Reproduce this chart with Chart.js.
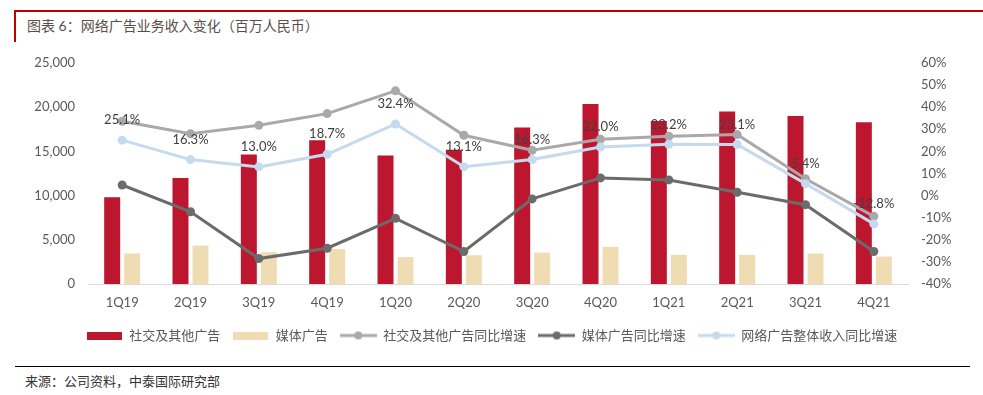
<!DOCTYPE html>
<html>
<head>
<meta charset="utf-8">
<script src="https://cdn.jsdelivr.net/npm/chart.js@4"></script>
<style>
  body { margin: 0; background: #fff; width: 983px; height: 395px; overflow: hidden; position: relative;
         font-family: Lato, "Noto Sans CJK SC", sans-serif; }
  #topline { position: absolute; left: 14px; top: 10px; width: 969px; height: 2px; background: #c00000; }
  #sideline { position: absolute; left: 14px; top: 10px; width: 2px; height: 32px; background: #c00000; }
  #title { position: absolute; left: 27px; top: 17px; font-size: 14px; line-height: 18px; color: #5a4e4a; }
  #box { position: absolute; left: 0; top: 0; width: 983px; height: 360px; }
  #bottomline { position: absolute; left: 15px; top: 366px; width: 955px; height: 1px; background: #000; }
  #source { position: absolute; left: 25px; top: 373px; font-size: 13px; line-height: 16px; color: #333; }
</style>
</head>
<body>
<div id="topline"></div>
<div id="sideline"></div>
<div id="title">图表 6：网络广告业务收入变化（百万人民币）</div>
<div id="box"><canvas id="grafico"></canvas></div>
<div id="bottomline"></div>
<div id="source">来源：公司资料，中泰国际研究部</div>

<script>
const quarters = ['1Q19', '2Q19', '3Q19', '4Q19', '1Q20', '2Q20', '3Q20', '4Q20', '1Q21', '2Q21', '3Q21', '4Q21'];
// 百万人民币
const socialAds = [9800, 12000, 14650, 16250, 14550, 15200, 17700, 20350, 18450, 19500, 19000, 18300];
const mediaAds = [3450, 4350, 3600, 3950, 3050, 3250, 3550, 4200, 3300, 3300, 3450, 3100];
// 同比增速 %
const socialYoy = [33.6, 28.0, 31.8, 37.1, 47.4, 27.3, 20.5, 25.5, 26.8, 27.6, 7.6, -9.4];
const mediaYoy = [4.8, -7.3, -28.5, -23.8, -10.3, -25.3, -1.5, 8.0, 7.1, 1.5, -4.1, -25.3];
const totalYoy = [25.1, 16.3, 13.0, 18.7, 32.4, 13.1, 16.3, 22.0, 23.2, 23.1, 5.4, -12.8];

const fonte = 'Lato, "Noto Sans CJK SC", sans-serif';
const corTexto = '#595959';

function iconeBarra(cor) {
  const c = document.createElement('canvas');
  c.width = 35; c.height = 8;
  const g = c.getContext('2d');
  g.fillStyle = cor;
  g.fillRect(0, 0, 35, 8);
  return c;
}

function iconeLinha(cor) {
  const c = document.createElement('canvas');
  c.width = 37; c.height = 10;
  const g = c.getContext('2d');
  g.strokeStyle = cor;
  g.lineWidth = 3;
  g.beginPath(); g.moveTo(0, 5); g.lineTo(37, 5); g.stroke();
  g.fillStyle = cor;
  g.beginPath(); g.arc(18.5, 5, 4, 0, Math.PI * 2); g.fill();
  return c;
}

const rotulosPct = {
  id: 'rotulosPct',
  afterDatasetsDraw(chart) {
    const meta = chart.getDatasetMeta(4);
    const ctx = chart.ctx;
    ctx.save();
    ctx.font = '13px ' + fonte;
    ctx.fillStyle = '#404040';
    ctx.textAlign = 'center';
    ctx.textBaseline = 'middle';
    meta.data.forEach((pt, i) => {
      ctx.fillText(totalYoy[i].toFixed(1) + '%', pt.x, pt.y - 20);
    });
    ctx.restore();
  }
};

const ctx = document.getElementById('grafico');

new Chart(ctx, {
  type: 'bar',
  data: {
    labels: quarters,
    datasets: [
      {
        label: '社交及其他广告',
        data: socialAds,
        backgroundColor: '#bd162f',
        yAxisID: 'y',
        order: 5,
        categoryPercentage: 0.585,
        barPercentage: 0.8
      },
      {
        label: '媒体广告',
        data: mediaAds,
        backgroundColor: '#f0dcb3',
        yAxisID: 'y',
        order: 5,
        categoryPercentage: 0.585,
        barPercentage: 0.8
      },
      {
        type: 'line',
        label: '社交及其他广告同比增速',
        data: socialYoy,
        borderColor: '#a9a9a9',
        backgroundColor: '#a9a9a9',
        borderWidth: 3,
        pointRadius: 4.5,
        pointBorderWidth: 0,
        yAxisID: 'y1',
        order: 3
      },
      {
        type: 'line',
        label: '媒体广告同比增速',
        data: mediaYoy,
        borderColor: '#6b6b6b',
        backgroundColor: '#6b6b6b',
        borderWidth: 3,
        pointRadius: 4.5,
        pointBorderWidth: 0,
        yAxisID: 'y1',
        order: 2
      },
      {
        type: 'line',
        label: '网络广告整体收入同比增速',
        data: totalYoy,
        borderColor: '#c6daef',
        backgroundColor: '#c6daef',
        borderWidth: 3,
        pointRadius: 4.5,
        pointBorderWidth: 0,
        yAxisID: 'y1',
        order: 1
      }
    ]
  },
  options: {
    responsive: true,
    maintainAspectRatio: false,
    animation: false,
    layout: { padding: { top: 63, left: 0, right: 0, bottom: 8 } },
    plugins: {
      tooltip: { enabled: false },
      legend: {
        display: true,
        position: 'bottom',
        labels: {
          usePointStyle: true,
          pointStyleWidth: 37,
          boxHeight: 13,
          padding: 12,
          color: corTexto,
          font: { size: 13, family: fonte },
          generateLabels(chart) {
            const icones = [
              iconeBarra('#bd162f'), iconeBarra('#f0dcb3'),
              iconeLinha('#a9a9a9'), iconeLinha('#6b6b6b'), iconeLinha('#c6daef')
            ];
            return chart.data.datasets.map((ds, i) => ({
              text: ds.label,
              pointStyle: icones[i],
              fillStyle: ds.backgroundColor,
              strokeStyle: ds.backgroundColor,
              lineWidth: 0,
              fontColor: corTexto,
              hidden: false,
              datasetIndex: i
            }));
          }
        }
      }
    },
    scales: {
      x: {
        grid: { display: false, drawTicks: false },
        border: { display: true, color: '#d9d9d9', width: 1 },
        ticks: { color: corTexto, font: { size: 13, family: fonte }, padding: 11 },
        afterFit(scale) { scale.height = 33; }
      },
      y: {
        type: 'linear',
        position: 'left',
        min: 0,
        max: 25000,
        grid: { display: false, drawTicks: false },
        border: { display: false },
        ticks: {
          stepSize: 5000,
          color: corTexto,
          font: { size: 13, family: fonte },
          padding: 13,
          callback: v => v.toLocaleString('en-US')
        },
        afterFit(scale) { scale.width = 88; }
      },
      y1: {
        type: 'linear',
        position: 'right',
        min: -40,
        max: 60,
        grid: { display: false, drawTicks: false },
        border: { display: false },
        ticks: {
          stepSize: 10,
          color: corTexto,
          font: { size: 13, family: fonte },
          padding: 13,
          callback: v => v + '%'
        },
        afterFit(scale) { scale.width = 75; }
      }
    }
  },
  plugins: [rotulosPct]
});
</script>
</body>
</html>
